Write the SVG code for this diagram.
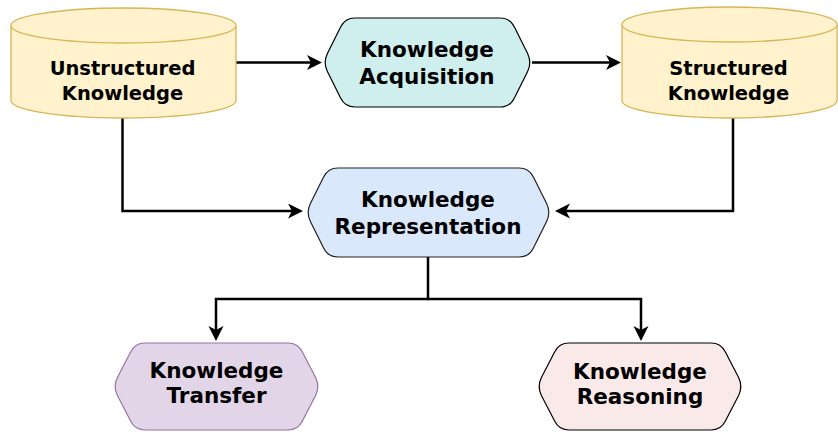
<svg xmlns="http://www.w3.org/2000/svg" width="838" height="432" viewBox="0 0 838 432">
<style>
.cyl{fill:#fff2cc;stroke:#d6b656;stroke-width:1.3}
.hex{stroke-width:1.2}
.ct{font-family:"Comic Sans MS","DejaVu Sans",sans-serif;font-weight:bold;font-size:19.5px;fill:#000;text-anchor:middle}
.ht{font-family:Verdana,"DejaVu Sans",sans-serif;font-weight:bold;font-size:21.5px;fill:#000;text-anchor:middle}
.edge{fill:none;stroke:#000;stroke-width:2.5;marker-end:url(#arr)}
</style>
<defs>
<marker id="arr" markerUnits="userSpaceOnUse" markerWidth="16" markerHeight="16" refX="10" refY="7.5" orient="auto">
<path d="M0,0 L15,7.5 L0,15 L4,7.5 Z" fill="#000"/>
</marker>
</defs>
<rect width="838" height="432" fill="#fff"/>
<g id="edges">
<path class="edge" d="M236,62.5 L317,62.5"/>
<path class="edge" d="M532,62.5 L616,62.5"/>
<path class="edge" d="M122.5,118 L122.5,211 L298,211"/>
<path class="edge" d="M733,118 L733,211 L560,211"/>
<path class="edge" d="M428,257 L428,299 L216,299 L216,336"/>
<path class="edge" d="M428,299 L641,299 L641,336"/>
</g>
<g id="unstructured">
<path class="cyl" d="M11,25.5 A112.5,17.5 0 0 1 236,25.5 L236,100.5 A112.5,17.5 0 0 1 11,100.5 Z"/>
<path class="cyl" fill="none" d="M11,25.5 A112.5,17.5 0 0 0 236,25.5"/>
<text class="ct" x="122.5" y="75">Unstructured</text>
<text class="ct" x="122.5" y="100">Knowledge</text>
</g>
<g id="structured">
<path class="cyl" d="M622,24.5 A107.5,17.5 0 0 1 837,24.5 L837,100.5 A107.5,17.5 0 0 1 622,100.5 Z"/>
<path class="cyl" fill="none" d="M622,24.5 A107.5,17.5 0 0 0 837,24.5"/>
<text class="ct" x="728.5" y="75">Structured</text>
<text class="ct" x="728.5" y="100">Knowledge</text>
</g>
<g id="acquisition">
<path class="hex" fill="#cfeeee" stroke="#000" d="M327.4,53.5 L340.6,27 Q345,18 355,18 L500,18 Q510,18 514.4,27 L527.6,53.5 Q532,62.5 527.6,71.5 L514.4,98 Q510,107 500,107 L355,107 Q345,107 340.6,98 L327.4,71.5 Q323,62.5 327.4,53.5 Z"/>
<text class="ht" x="427" y="57">Knowledge</text>
<text class="ht" x="427" y="84">Acquisition</text>
</g>
<g id="representation">
<path class="hex" fill="#dae8fc" stroke="#222" d="M310.4,203.5 L323.6,177 Q328,168 338,168 L519,168 Q529,168 533.4,177 L546.6,203.5 Q551,212.5 546.6,221.5 L533.4,248 Q529,257 519,257 L338,257 Q328,257 323.6,248 L310.4,221.5 Q306,212.5 310.4,203.5 Z"/>
<text class="ht" x="428" y="207">Knowledge</text>
<text class="ht" x="428" y="234">Representation</text>
</g>
<g id="transfer">
<path class="hex" fill="#e1d5e7" stroke="#9673a6" d="M117.4,377.5 L130.6,352 Q135,343 145,343 L288,343 Q298,343 302.4,352 L315.6,377.5 Q320,386.5 315.6,395.5 L302.4,421 Q298,430 288,430 L145,430 Q135,430 130.6,421 L117.4,395.5 Q113,386.5 117.4,377.5 Z"/>
<text class="ht" x="216.5" y="378">Knowledge</text>
<text class="ht" x="216.5" y="403">Transfer</text>
</g>
<g id="reasoning">
<path class="hex" fill="#fae9e9" stroke="#000" d="M541.4,377.5 L554.6,352 Q559,343 569,343 L711,343 Q721,343 725.4,352 L738.6,377.5 Q743,386.5 738.6,395.5 L725.4,421 Q721,430 711,430 L569,430 Q559,430 554.6,421 L541.4,395.5 Q537,386.5 541.4,377.5 Z"/>
<text class="ht" x="640" y="379">Knowledge</text>
<text class="ht" x="640" y="404">Reasoning</text>
</g>
</svg>
